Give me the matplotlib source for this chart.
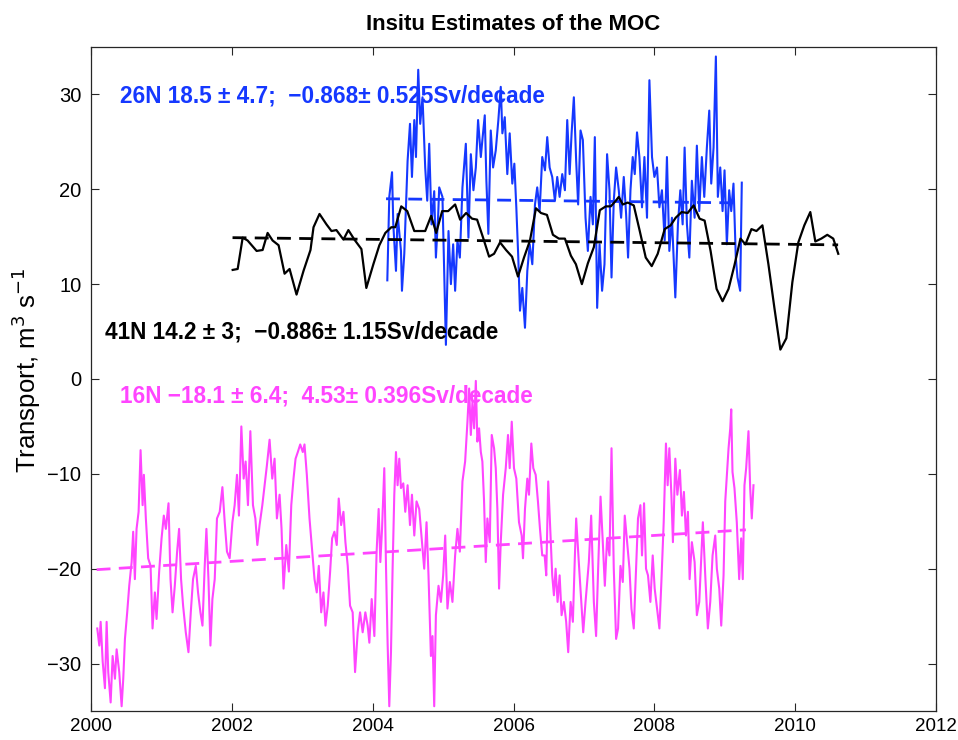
import matplotlib

matplotlib.use("Agg")

import matplotlib.pyplot as plt

plt.rcParams["font.family"] = ["Liberation Sans", "DejaVu Sans"]

BLUE = "#1538ff"
BLACK = "#000000"
MAGENTA = "#ff45ff"

# 26N (RAPID) transport, Sv
years_26n = [
    2004.208, 2004.236, 2004.275, 2004.293, 2004.331, 2004.354, 2004.402, 2004.416, 2004.449, 2004.496,
    2004.530, 2004.558, 2004.591, 2004.615, 2004.647, 2004.675, 2004.708, 2004.746, 2004.775, 2004.803,
    2004.836, 2004.874, 2004.898, 2004.931,
    2004.945, 2004.991, 2005.040, 2005.077, 2005.111, 2005.143, 2005.171, 2005.204, 2005.238, 2005.275,
    2005.323, 2005.360, 2005.394, 2005.431, 2005.465, 2005.497, 2005.536, 2005.558, 2005.592, 2005.615,
    2005.643, 2005.677, 2005.710, 2005.748, 2005.785, 2005.819, 2005.842, 2005.876, 2005.912, 2005.946,
    2005.983, 2006.012, 2006.040, 2006.068, 2006.092, 2006.125, 2006.163, 2006.196, 2006.230, 2006.267,
    2006.305, 2006.337, 2006.371, 2006.408, 2006.447, 2006.479, 2006.513, 2006.550, 2006.588, 2006.621,
    2006.655, 2006.692, 2006.730, 2006.763, 2006.797, 2006.825, 2006.857, 2006.890, 2006.918, 2006.952,
    2006.985, 2007.023, 2007.056, 2007.094, 2007.127, 2007.155, 2007.188, 2007.222, 2007.258, 2007.292,
    2007.329, 2007.363, 2007.392, 2007.424, 2007.457, 2007.495, 2007.528, 2007.566, 2007.599, 2007.627,
    2007.661, 2007.693, 2007.722, 2007.754, 2007.788, 2007.825, 2007.859, 2007.896, 2007.930, 2007.967,
    2008.001, 2008.038, 2008.072, 2008.108, 2008.147, 2008.179, 2008.213, 2008.250, 2008.298, 2008.335,
    2008.369, 2008.402, 2008.430, 2008.463, 2008.497, 2008.533, 2008.572, 2008.604, 2008.638, 2008.675,
    2008.709, 2008.746, 2008.780, 2008.808, 2008.841, 2008.874, 2008.902, 2008.936, 2008.969, 2008.997,
    2009.030, 2009.063, 2009.092, 2009.124, 2009.157, 2009.181, 2009.219, 2009.242,
]
values_26n = [
    10.4, 19.2, 21.8, 16.3, 11.4, 17.4, 13.5, 9.3, 13.2, 23.0,
    26.9, 21.3, 27.3, 23.4, 32.6, 26.9, 29.7, 22.3, 18.8, 24.8,
    16.3, 19.8, 12.8, 17.4,
    20.2, 19.2, 3.6, 15.6, 10.0, 14.2, 9.3, 14.6, 12.8, 20.2,
    24.8, 14.9, 23.7, 19.9, 22.3, 27.3, 23.4, 25.2, 27.8, 20.9,
    15.3, 26.2, 22.3, 24.1, 27.3, 30.8, 25.9, 27.6, 21.6, 25.9,
    20.6, 22.7, 18.1, 12.8, 7.2, 9.6, 5.4, 11.4, 14.2, 12.1,
    18.4, 20.2, 17.7, 23.4, 22.0, 25.5, 22.3, 21.3, 18.8, 21.3,
    19.2, 21.6, 19.9, 27.3, 21.6, 25.9, 29.7, 23.0, 18.4, 26.2,
    25.2, 17.0, 13.5, 19.2, 16.3, 25.5, 7.5, 14.2, 9.3, 12.1,
    23.7, 19.9, 10.7, 18.8, 22.3, 19.9, 17.0, 21.3, 17.4, 12.8,
    19.9, 23.4, 21.6, 26.0, 23.4, 18.1, 23.4, 17.0, 31.5, 23.4,
    21.3, 22.3, 18.1, 19.9, 14.6, 23.4, 13.5, 17.0, 8.6, 16.3,
    19.9, 16.3, 24.4, 16.3, 12.8, 20.9, 17.0, 24.6, 17.7, 23.4,
    19.2, 24.4, 28.3, 20.6, 24.4, 34.0, 19.2, 22.3, 17.7, 22.0,
    14.2, 19.9, 17.7, 20.6, 12.8, 10.7, 9.3, 20.7,
]
trend_years_26n = [2004.19, 2009.24]
trend_values_26n = [19.0, 18.56]

# 41N transport, Sv (monthly)
years_41n = [
    2002.012, 2002.083, 2002.154, 2002.224, 2002.352, 2002.437, 2002.508, 2002.579, 2002.664, 2002.749,
    2002.820, 2002.919, 2003.018, 2003.117, 2003.160, 2003.245, 2003.344, 2003.415, 2003.485, 2003.585,
    2003.655, 2003.740, 2003.840, 2003.910, 2004.010, 2004.095, 2004.180, 2004.265, 2004.321, 2004.406,
    2004.491, 2004.591, 2004.661, 2004.746, 2004.831, 2004.902, 2004.987, 2005.072, 2005.171, 2005.242,
    2005.327, 2005.412, 2005.483, 2005.568, 2005.653, 2005.724, 2005.809, 2005.894, 2005.979, 2006.064,
    2006.149, 2006.234, 2006.319, 2006.390, 2006.475, 2006.560, 2006.645, 2006.730, 2006.815, 2006.886,
    2006.971, 2007.056, 2007.141, 2007.226, 2007.311, 2007.382, 2007.453, 2007.495, 2007.552, 2007.623,
    2007.708, 2007.793, 2007.878, 2007.963, 2008.048, 2008.147, 2008.232, 2008.303, 2008.388, 2008.473,
    2008.558, 2008.643, 2008.714, 2008.799, 2008.884, 2008.969, 2009.054, 2009.138, 2009.223, 2009.294,
    2009.379, 2009.450, 2009.535, 2009.620, 2009.705, 2009.790, 2009.875, 2009.960, 2010.045, 2010.130,
    2010.215, 2010.286, 2010.371, 2010.456, 2010.541, 2010.612,
]
values_41n = [
    11.5, 11.6, 14.9, 14.6, 13.5, 13.6, 15.4, 14.6, 14.1, 11.1,
    11.6, 8.9, 11.4, 13.6, 16.0, 17.4, 16.3, 15.6, 15.7, 14.7,
    15.7, 14.7, 13.7, 9.6, 12.1, 14.1, 15.4, 16.0, 16.0, 18.2,
    17.7, 15.6, 15.6, 15.6, 17.2, 15.4, 17.7, 17.7, 18.4, 16.8,
    17.5, 16.9, 16.8, 14.9, 12.9, 13.2, 14.4, 13.6, 12.9, 10.8,
    12.8, 14.6, 18.0, 17.5, 17.3, 15.2, 14.8, 14.8, 13.0, 12.1,
    10.0, 12.2, 13.9, 17.8, 18.2, 18.2, 18.8, 19.2, 18.4, 18.6,
    18.3, 15.6, 12.8, 11.9, 13.2, 15.8, 16.2, 17.0, 17.6, 17.5,
    18.3, 16.9, 16.7, 13.5, 9.5, 8.2, 9.5, 12.0, 14.8, 14.2,
    15.8, 15.6, 16.2, 12.1, 7.5, 3.1, 4.3, 10.2, 14.4, 16.2,
    17.6, 14.5, 14.8, 15.2, 14.8, 13.2,
]
trend_years_41n = [2002.01, 2010.61]
trend_values_41n = [14.9, 14.14]

# 16N transport, Sv
years_16n = [
    2000.089, 2000.118, 2000.137, 2000.166, 2000.198, 2000.222, 2000.245, 2000.279, 2000.307, 2000.340,
    2000.364, 2000.401, 2000.435, 2000.458, 2000.482, 2000.514, 2000.543, 2000.577, 2000.599, 2000.623,
    2000.647, 2000.676, 2000.704, 2000.733, 2000.751, 2000.779, 2000.812, 2000.846, 2000.874, 2000.907,
    2000.931, 2000.968, 2001.002, 2001.034, 2001.063, 2001.101, 2001.129, 2001.158, 2001.190, 2001.223,
    2001.251, 2001.279, 2001.308, 2001.346, 2001.384, 2001.417, 2001.449, 2001.488, 2001.520, 2001.554,
    2001.583, 2001.615, 2001.639, 2001.668, 2001.696, 2001.724, 2001.757, 2001.789, 2001.828, 2001.866,
    2001.899, 2001.931, 2001.969, 2002.008, 2002.040, 2002.073, 2002.101, 2002.135, 2002.168, 2002.196,
    2002.229, 2002.263, 2002.300, 2002.334, 2002.362, 2002.394, 2002.433, 2002.465, 2002.498, 2002.536,
    2002.574, 2002.607, 2002.640, 2002.678, 2002.706, 2002.734, 2002.773, 2002.810, 2002.844, 2002.876,
    2002.905, 2002.937, 2002.971, 2003.008, 2003.032, 2003.065, 2003.103, 2003.141, 2003.174, 2003.206,
    2003.235, 2003.269, 2003.301, 2003.330, 2003.362, 2003.396, 2003.424, 2003.457, 2003.490, 2003.518,
    2003.552, 2003.585, 2003.613, 2003.646, 2003.679, 2003.716, 2003.750, 2003.787, 2003.821, 2003.858,
    2003.896, 2003.929,
    2003.953, 2003.986, 2004.024, 2004.056, 2004.085, 2004.109, 2004.133, 2004.165, 2004.190, 2004.212,
    2004.236, 2004.260, 2004.283, 2004.307, 2004.331, 2004.354, 2004.378, 2004.402, 2004.435, 2004.463,
    2004.496, 2004.530, 2004.558, 2004.591, 2004.623, 2004.661, 2004.700, 2004.732, 2004.765, 2004.793,
    2004.827, 2004.850, 2004.874, 2004.898, 2004.935, 2004.969, 2005.001, 2005.030, 2005.062, 2005.096,
    2005.133, 2005.171, 2005.204, 2005.238, 2005.275, 2005.313, 2005.346, 2005.370, 2005.394, 2005.417,
    2005.441, 2005.465, 2005.487, 2005.511, 2005.536, 2005.558, 2005.582, 2005.606, 2005.629, 2005.663,
    2005.691, 2005.724, 2005.748, 2005.771, 2005.795, 2005.819, 2005.852, 2005.890, 2005.922, 2005.946,
    2005.975, 2006.007, 2006.040, 2006.078, 2006.116, 2006.135, 2006.163, 2006.196, 2006.220, 2006.253,
    2006.281, 2006.315, 2006.347, 2006.376, 2006.408, 2006.442, 2006.465, 2006.493, 2006.522, 2006.550,
    2006.574, 2006.598, 2006.626, 2006.655, 2006.683, 2006.716, 2006.748, 2006.777, 2006.811, 2006.843,
    2006.872, 2006.890,
    2006.933, 2006.990, 2007.023, 2007.070, 2007.103, 2007.141, 2007.173, 2007.202, 2007.236, 2007.268,
    2007.297, 2007.329, 2007.363, 2007.392, 2007.424, 2007.457, 2007.485, 2007.519, 2007.552, 2007.580,
    2007.613, 2007.647, 2007.675, 2007.708, 2007.740, 2007.768, 2007.802, 2007.825, 2007.854, 2007.882,
    2007.910, 2007.944, 2007.977, 2008.005, 2008.038, 2008.072, 2008.100, 2008.133, 2008.165, 2008.189,
    2008.213, 2008.242, 2008.264, 2008.298, 2008.327, 2008.363, 2008.392, 2008.420, 2008.449, 2008.477,
    2008.501, 2008.533, 2008.572, 2008.604, 2008.638, 2008.667, 2008.689, 2008.723, 2008.760, 2008.794,
    2008.827, 2008.865, 2008.888, 2008.922, 2008.950, 2008.983, 2009.007, 2009.030, 2009.054, 2009.078,
    2009.092, 2009.110, 2009.138, 2009.171, 2009.205, 2009.233, 2009.256, 2009.280, 2009.304, 2009.337,
    2009.361, 2009.384, 2009.408,
]
values_16n = [
    -26.3, -28.1, -25.6, -29.8, -32.6, -25.6, -30.9, -34.1, -29.2, -31.6,
    -28.5, -30.9, -34.5, -31.6, -27.4, -24.6, -21.8, -19.3, -16.1, -21.1,
    -15.8, -14.0, -7.5, -13.3, -10.1, -14.7, -18.9, -19.7, -26.3, -22.5,
    -25.3, -20.3, -16.8, -14.4, -15.8, -13.1, -21.1, -24.6, -21.8, -18.2,
    -15.8, -21.1, -23.9, -26.7, -28.8, -24.6, -21.1, -19.7, -22.5, -24.6,
    -26.0, -19.7, -15.8, -21.1, -28.1, -23.2, -21.1, -14.7, -14.0, -11.4,
    -15.1, -18.2, -18.9, -15.1, -13.3, -10.1, -14.4, -5.0, -10.5, -8.7,
    -13.3, -5.5, -13.3, -14.7, -17.5, -15.4, -13.3, -11.2, -9.1, -6.4,
    -10.5, -8.4, -14.7, -12.2, -15.8, -22.1, -17.5, -20.3, -13.3, -10.5,
    -8.4, -7.7, -6.9, -7.7, -6.9, -10.1, -14.7, -18.2, -21.1, -22.5,
    -19.7, -24.6, -22.5, -26.0, -23.9, -20.3, -16.8, -16.1, -17.5, -12.6,
    -15.4, -14.0, -17.2, -19.7, -23.9, -24.6, -30.9, -26.7, -24.6, -26.7,
    -24.6, -26.0,
    -27.8, -23.2, -27.1, -18.2, -13.7, -19.3, -15.8, -9.4, -20.0, -27.8,
    -34.5, -28.8, -20.0, -12.2, -7.7, -11.2, -8.4, -11.5, -11.0, -14.0,
    -11.2, -15.4, -12.2, -16.5, -12.9, -13.7, -17.2, -20.0, -15.1, -20.7,
    -29.2, -27.1, -34.5, -24.9, -21.8, -23.5, -20.7, -16.5, -24.2, -21.4,
    -23.5, -18.6, -15.8, -18.2, -10.8, -8.7, -4.5, -1.0, -5.9, -2.4,
    -5.2, -0.2, -6.6, -5.2, -7.7, -8.7, -12.9, -19.3, -14.7, -17.2,
    -5.9, -7.3, -9.4, -13.7, -22.1, -17.2, -12.2, -9.4, -5.9, -9.4,
    -4.5, -9.4, -10.5, -15.1, -16.5, -18.9, -13.7, -10.5, -12.2, -6.8,
    -9.4, -10.1, -12.9, -15.8, -18.6, -18.6, -20.7, -10.8, -15.8, -20.7,
    -22.8, -20.0, -23.5, -20.7, -24.9, -23.5, -25.6, -28.8, -23.5, -25.6,
    -18.6, -14.7,
    -20.0, -26.7, -23.5, -19.3, -14.4, -23.5, -27.1, -20.0, -12.4, -17.2,
    -21.8, -16.8, -18.6, -7.3, -20.0, -27.4, -26.3, -19.7, -21.4, -14.4,
    -17.2, -20.0, -24.2, -26.3, -20.0, -14.7, -13.3, -18.6, -13.1, -20.0,
    -20.7, -23.5, -18.6, -22.1, -24.2, -26.3, -21.4, -15.1, -6.8, -11.2,
    -7.3, -12.2, -17.2, -8.4, -12.2, -9.6, -14.4, -11.9, -16.5, -14.0,
    -21.1, -17.2, -19.3, -24.9, -23.5, -18.6, -15.1, -20.7, -26.3, -23.5,
    -18.6, -16.5, -20.0, -22.1, -26.0, -20.7, -12.9, -10.1, -7.3, -5.2,
    -3.2, -9.8, -11.5, -15.1, -21.1, -16.8, -21.1, -11.2, -9.4, -5.5,
    -11.5, -14.7, -11.2,
]
trend_years_16n = [2000.08, 2009.30]
trend_values_16n = [-20.1, -15.9]

labels = [
    ("26N 18.5 \u00b1 4.7;  \u22120.868\u00b1 0.525Sv/decade", 2000.41, 29.2, BLUE),
    ("41N 14.2 \u00b1 3;  \u22120.886\u00b1 1.15Sv/decade", 2000.20, 4.3, BLACK),
    ("16N \u221218.1 \u00b1 6.4;  4.53\u00b1 0.396Sv/decade", 2000.41, -2.5, MAGENTA),
]

dash = (0, (5, 3))

fig = plt.figure(figsize=(9.58, 7.4), dpi=100)
ax = fig.add_axes([91 / 958, 1 - 711 / 740, 845 / 958, 664 / 740])

ax.plot(years_26n, values_26n, color=BLUE, linewidth=1.5)
ax.plot(trend_years_26n, trend_values_26n, color=BLUE, linewidth=2, linestyle=dash)
ax.plot(years_41n, values_41n, color=BLACK, linewidth=1.6)
ax.plot(trend_years_41n, trend_values_41n, color=BLACK, linewidth=2, linestyle=dash)
ax.plot(years_16n, values_16n, color=MAGENTA, linewidth=1.5)
ax.plot(trend_years_16n, trend_values_16n, color=MAGENTA, linewidth=2, linestyle=dash)

for text, x, y, color in labels:
    ax.text(x, y, text, color=color, fontsize=16.3, fontweight="bold", va="baseline", ha="left")

ax.set_xlim(2000, 2012)
ax.set_ylim(-35, 35)
ax.set_xticks(range(2000, 2013, 2))
ax.set_yticks(range(-30, 31, 10))
ax.tick_params(direction="in", length=6, width=0.8, top=True, right=True,
               labelsize=14.5, color="#262626", pad=7)
ax.tick_params(axis="x", labelsize=13.5, pad=5)
for spine in ax.spines.values():
    spine.set_color("#262626")
    spine.set_linewidth(0.9)

ax.set_title("Insitu Estimates of the MOC", fontsize=16, fontweight="bold", pad=12)
ax.set_ylabel("Transport, m$^3$ s$^{-1}$", fontsize=18.5)
ax.yaxis.set_label_coords(-0.057, 0.513)

fig.savefig("out.png", dpi=100)
